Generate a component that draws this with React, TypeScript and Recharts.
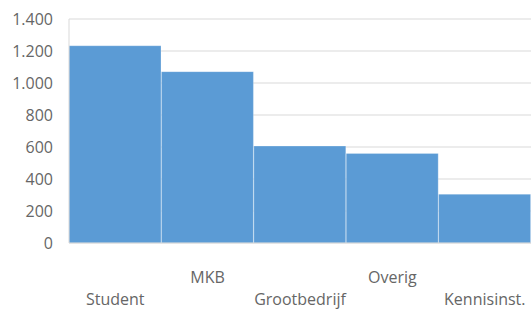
import { BarChart, Bar, XAxis, YAxis, CartesianGrid } from 'recharts'

const categories = ['Student', 'MKB', 'Grootbedrijf', 'Overig', 'Kennisinst.']
const values = [1233, 1071, 606, 560, 305]
const yTicks = [0, 200, 400, 600, 800, 1000, 1200, 1400]

const FONT = '"Open Sans", "Noto Sans", sans-serif'
const TEXT = '#666666'
const BLUE = '#5B9BD5'

const data = categories.map((name, i) => ({ name, value: values[i] }))

// Dutch style thousands separator: 1400 -> 1.400
function formatNL(v: number): string {
  return String(v).replace(/\B(?=(\d{3})+(?!\d))/g, '.')
}

// Excel staggers the category labels over two rows when they don't fit
function StaggeredTick(props: any) {
  const { x, y, payload, index } = props
  const dy = index % 2 === 0 ? 62 : 40
  return (
    <text x={x} y={y + dy} textAnchor="middle" fill={TEXT} fontSize={16} fontFamily={FONT}>
      {payload.value}
    </text>
  )
}

export default function App() {
  return (
    <div style={{ position: 'fixed', left: 0, top: 0, background: '#fff' }}>
      <BarChart
        width={531}
        height={311}
        data={data}
        margin={{ top: 19, right: 0, bottom: 0, left: 0 }}
        barCategoryGap={0}
      >
        <CartesianGrid vertical={false} stroke="#d9d9d9" />
        <XAxis
          dataKey="name"
          height={68}
          interval={0}
          tickSize={0}
          tickMargin={0}
          axisLine={{ stroke: '#d9d9d9' }}
          tick={<StaggeredTick />}
        />
        <YAxis
          width={69}
          domain={[0, 1400]}
          ticks={yTicks}
          tickSize={0}
          tickMargin={16}
          axisLine={{ stroke: '#d9d9d9' }}
          tickFormatter={formatNL}
          tick={{ fill: TEXT, fontSize: 16, fontFamily: FONT }}
        />
        <Bar
          dataKey="value"
          fill={BLUE}
          stroke="rgba(255,255,255,0.25)"
          strokeWidth={1}
          isAnimationActive={false}
        />
      </BarChart>
    </div>
  )
}
